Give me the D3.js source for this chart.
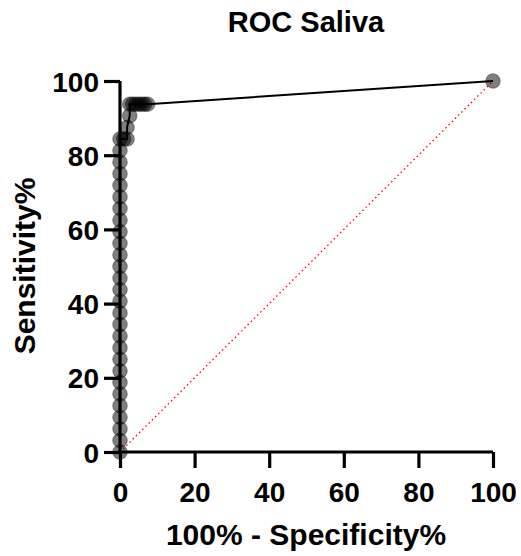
<!DOCTYPE html>
<html>
<head>
<meta charset="utf-8">
<script src="https://cdn.jsdelivr.net/npm/d3@7"></script>
<style>
  html, body { margin: 0; padding: 0; background: #fff; }
  text { font-family: "Liberation Sans", Arial, Helvetica, sans-serif; font-weight: bold; fill: #000; }
</style>
</head>
<body>
<svg id="chart" width="521" height="556"></svg>
<script>
// ROC curve points: x = 100% - Specificity%, y = Sensitivity%
const fprValues = [
  0,0,0,0,0,0,0,0,0,0,0,0,0,0,0,0,0,0,0,0,0,0,0,0,0,0,0,0,
  1.0, 1.9, 1.9, 2.6, 2.6, 3.4, 4.2, 5.0, 5.8, 6.6, 7.4, 100
];
const sensValues = [
  0,3.125,6.25,9.375,12.5,15.625,18.75,21.875,25,28.125,31.25,34.375,37.5,40.625,
  43.75,46.875,50,53.125,56.25,59.375,62.5,65.625,68.75,71.875,75,78.125,81.25,84.375,
  84.375, 84.375, 87.5, 90.625, 93.75, 93.75, 93.75, 93.75, 93.75, 93.75, 93.75, 100
];
const xTicks = [0, 20, 40, 60, 80, 100];
const yTicks = [0, 20, 40, 60, 80, 100];
const chartTitle = "ROC Saliva";
const xTitle = "100% - Specificity%";
const yTitle = "Sensitivity%";

const points = fprValues.map((x, i) => ({x: x, y: sensValues[i]}));

const svg = d3.select("#chart");
const x = d3.scaleLinear().domain([0, 100]).range([120, 493]);
const y = d3.scaleLinear().domain([0, 100]).range([452, 81]);

// reference diagonal
svg.append("line")
  .attr("x1", x(0)).attr("y1", y(0)).attr("x2", x(100)).attr("y2", y(100))
  .attr("stroke", "#ff0000").attr("stroke-width", 1.3)
  .attr("stroke-dasharray", "1.5,3");

// axes
const xAxis = svg.append("g").attr("transform", `translate(0,${y(0)})`)
  .call(d3.axisBottom(x).tickValues(xTicks).tickSize(16).tickPadding(14).tickFormat(d3.format("d")));
const yAxis = svg.append("g").attr("transform", `translate(${x(0)},0)`)
  .call(d3.axisLeft(y).tickValues(yTicks).tickSize(16).tickPadding(5).tickFormat(d3.format("d")));

[xAxis, yAxis].forEach(g => {
  g.select(".domain").attr("stroke", "#000").attr("stroke-width", 3.2);
  g.selectAll(".tick line").attr("stroke", "#000").attr("stroke-width", 3.2);
  g.selectAll(".tick text").style("font-size", "28px").style("font-weight", "bold")
    .style("font-family", '"Liberation Sans", Arial, sans-serif').attr("fill", "#000");
});
xAxis.selectAll(".domain").attr("d", `M${x(0)},0H${x(100)}`);
yAxis.selectAll(".domain").attr("d", `M0,${y(0)}V${y(100)}`);
yAxis.selectAll(".tick text").attr("dy", "0.36em");

// ROC line
const line = d3.line().x(d => x(d.x)).y(d => y(d.y));
svg.append("path").datum(points)
  .attr("d", line)
  .attr("fill", "none")
  .attr("stroke", "#000")
  .attr("stroke-width", 2);

// points
svg.append("g").selectAll("circle").data(points).join("circle")
  .attr("cx", d => x(d.x)).attr("cy", d => y(d.y)).attr("r", 7.3)
  .attr("fill", "rgba(0,0,0,0.5)")
  .attr("stroke", "rgba(0,0,0,0.35)")
  .attr("stroke-width", 1);

// titles
svg.append("text").attr("x", 306).attr("y", 32).attr("text-anchor", "middle")
  .style("font-size", "29px").text(chartTitle);
svg.append("text").attr("x", 306).attr("y", 545).attr("text-anchor", "middle")
  .style("font-size", "30px").text(xTitle);
svg.append("text").attr("transform", "translate(35,266) rotate(-90)").attr("text-anchor", "middle")
  .style("font-size", "30px").text(yTitle);
</script>
</body>
</html>
